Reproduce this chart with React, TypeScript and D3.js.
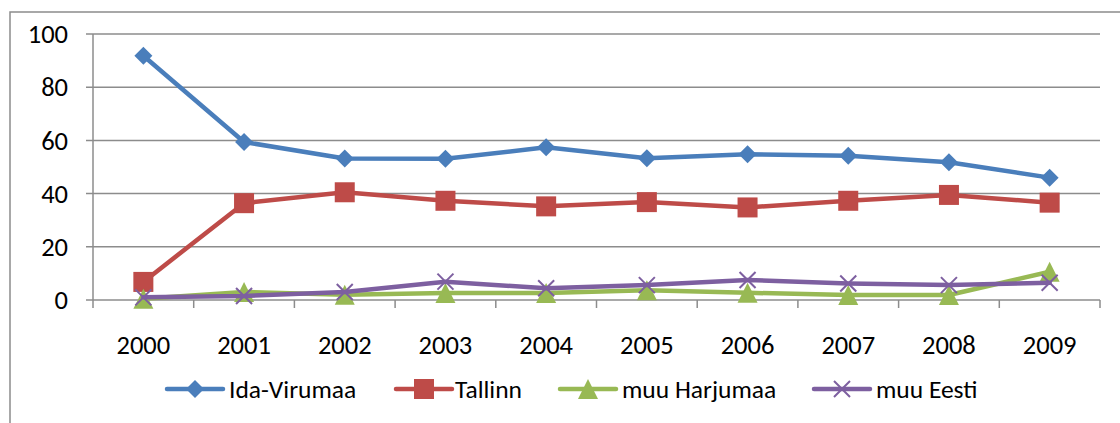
import React from "react";
import * as d3 from "d3";

const years = ["2000", "2001", "2002", "2003", "2004", "2005", "2006", "2007", "2008", "2009"];
const idaVirumaa = [91.8, 59.4, 53.2, 53.1, 57.4, 53.3, 54.8, 54.2, 51.8, 46.0];
const tallinn = [6.8, 36.4, 40.5, 37.3, 35.2, 36.8, 34.8, 37.3, 39.5, 36.6];
const muuHarjumaa = [0.5, 3.0, 2.0, 2.6, 2.6, 3.7, 2.7, 1.9, 1.9, 10.6];
const muuEesti = [1.0, 1.5, 3.0, 6.9, 4.4, 5.6, 7.5, 6.2, 5.6, 6.5];
const yTicks = [0, 20, 40, 60, 80, 100];

type Series = { name: string; values: number[]; color: string; marker: string };
const series: Series[] = [
  { name: "Ida-Virumaa", values: idaVirumaa, color: "#4A7EBB", marker: "diamond" },
  { name: "Tallinn", values: tallinn, color: "#BE4B48", marker: "square" },
  { name: "muu Harjumaa", values: muuHarjumaa, color: "#98B954", marker: "triangle" },
  { name: "muu Eesti", values: muuEesti, color: "#7D5FA0", marker: "x" },
];

const FONT = "Carlito, Calibri, 'Liberation Sans', Arial, sans-serif";

function Marker({ type, x, y, color }: { type: string; x: number; y: number; color: string }) {
  if (type === "diamond") {
    const r = 9;
    return <path d={`M${x},${y - r}L${x + r},${y}L${x},${y + r}L${x - r},${y}Z`} fill={color} />;
  }
  if (type === "square") {
    const s = 10;
    return <rect x={x - s} y={y - s} width={2 * s} height={2 * s} fill={color} />;
  }
  if (type === "triangle") {
    const r = 10;
    return <path d={`M${x},${y - r}L${x + r},${y + r}L${x - r},${y + r}Z`} fill={color} />;
  }
  const r = 8;
  return (
    <path
      d={`M${x - r},${y - r}L${x + r},${y + r}M${x - r},${y + r}L${x + r},${y - r}`}
      stroke={color}
      strokeWidth={2}
      fill="none"
    />
  );
}

export default function App() {
  const W = 1120;
  const H = 423;
  const left = 93;
  const right = 1100;
  const top = 34;
  const bottom = 300;

  const x = d3.scaleBand<string>().domain(years).range([left, right]).padding(0);
  const y = d3.scaleLinear().domain([0, 100]).range([bottom, top]);
  const cx = (yr: string) => (x(yr) as number) + x.bandwidth() / 2;

  const line = d3
    .line<number>()
    .x((_, i) => cx(years[i]))
    .y((d) => y(d));

  const grid = "#8c8c8c";
  const boundaries = years.map((yr) => x(yr) as number).concat([right]);

  const legendItems = [
    { lx: 167, tx: 229 },
    { lx: 396, tx: 455 },
    { lx: 560, tx: 622 },
    { lx: 814, tx: 876 },
  ];
  const legendY = 389;

  return (
    <svg
      width={W}
      height={H}
      style={{ position: "absolute", left: 0, top: 0, background: "#fff" }}
      fontFamily={FONT}
    >
      <rect x={10} y={12} width={W + 20} height={H + 20} fill="#fff" stroke={grid} strokeWidth={1.5} />
      {yTicks.map((t) => (
        <g key={t}>
          <line x1={86} x2={right} y1={y(t)} y2={y(t)} stroke={grid} strokeWidth={1.5} />
          <text x={68} y={y(t)} dy="0.35em" textAnchor="end" fontSize={26.5} fill="#000">
            {t}
          </text>
        </g>
      ))}
      <line x1={left} x2={left} y1={top} y2={bottom} stroke={grid} strokeWidth={1.5} />
      {boundaries.map((b, i) => (
        <line key={i} x1={b} x2={b} y1={bottom} y2={bottom + 8} stroke={grid} strokeWidth={1.5} />
      ))}
      {years.map((yr) => (
        <text key={yr} x={cx(yr)} y={354} textAnchor="middle" fontSize={26.5} fill="#000">
          {yr}
        </text>
      ))}
      {series.map((s) => (
        <g key={s.name}>
          <path d={line(s.values) || ""} fill="none" stroke={s.color} strokeWidth={4.5} strokeLinejoin="round" strokeLinecap="round" />
          {s.values.map((v, i) => (
            <Marker key={i} type={s.marker} x={cx(years[i])} y={y(v)} color={s.color} />
          ))}
        </g>
      ))}
      {series.map((s, i) => {
        const it = legendItems[i];
        return (
          <g key={s.name}>
            <line x1={it.lx} x2={it.lx + 56} y1={legendY} y2={legendY} stroke={s.color} strokeWidth={4.5} strokeLinecap="round" />
            <Marker type={s.marker} x={it.lx + 28} y={legendY} color={s.color} />
            <text x={it.tx} y={legendY} dy="0.35em" fontSize={25.5} fill="#000">
              {s.name}
            </text>
          </g>
        );
      })}
    </svg>
  );
}
